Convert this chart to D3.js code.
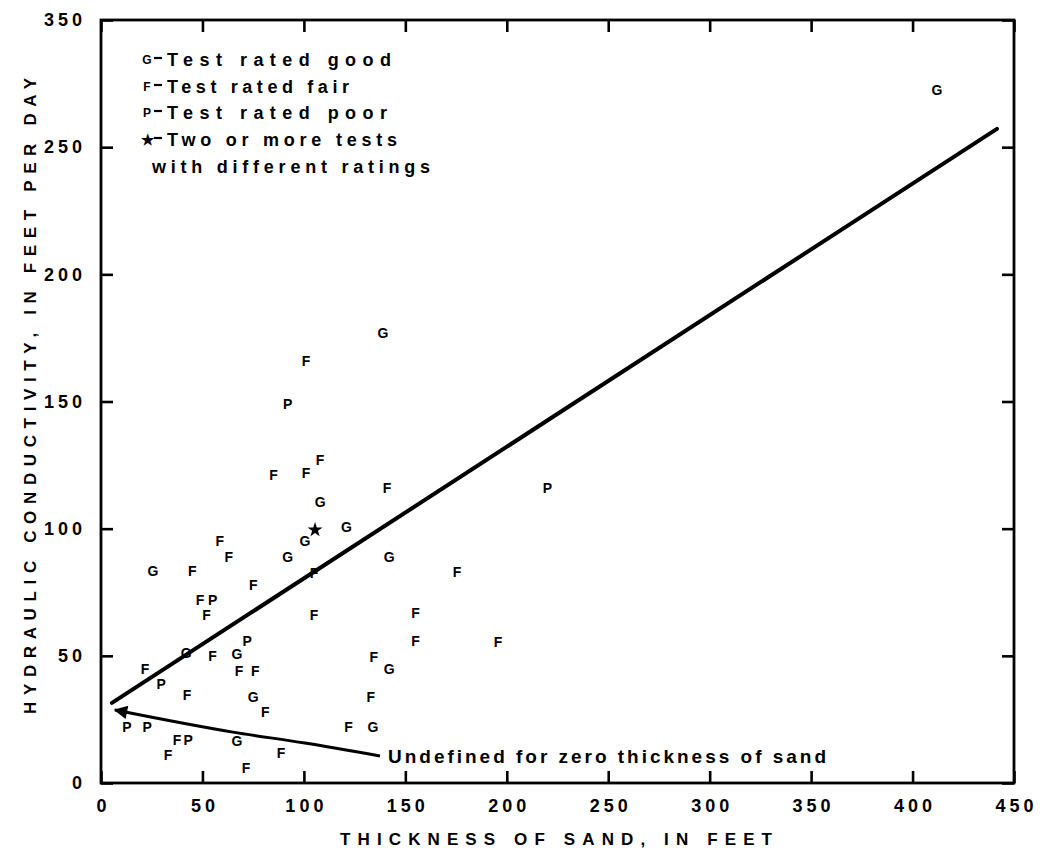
<!DOCTYPE html>
<html>
<head>
<meta charset="utf-8">
<script src="https://cdn.jsdelivr.net/npm/d3@7/dist/d3.min.js"></script>
<style>
  html, body { margin: 0; padding: 0; background: #fff; }
  svg { display: block; }
  text { font-family: "Liberation Sans", Arial, Helvetica, sans-serif; fill: #000; }
</style>
</head>
<body>
<svg id="chart" width="1042" height="859"></svg>
<script>
// Aquifer tests: sand thickness (ft) vs hydraulic conductivity (ft/d), by test rating
const goodThickness = [412, 139, 108, 121, 100.5, 92, 142, 25.6, 42, 67, 142, 75, 134, 67];
const goodConductivity = [272.5, 177, 110.5, 100.7, 95, 89, 89, 83.4, 51, 50.6, 45, 34, 22, 16.5];

const fairThickness = [101, 85, 101, 108, 141, 58.6, 63, 45, 75, 105, 175.5, 48.8, 52, 105, 155, 155, 195.7, 55, 134.5, 68, 76, 21.7, 42.4, 133, 81, 122, 37.5, 33, 88.7, 71.5];
const fairConductivity = [166, 121, 122, 127, 116, 95, 89, 83.4, 78, 82.6, 83, 72, 66, 66, 67, 56, 55.4, 50, 49.5, 44.1, 44.1, 45, 34.6, 34, 28, 22, 17, 11, 12, 6];

const poorThickness = [92, 220, 55, 72, 29.6, 12.8, 22.7, 43];
const poorConductivity = [149, 116, 72, 56, 39, 22, 22, 17];

const mixedThickness = [105.5];
const mixedConductivity = [99.5];

// Fitted relation and the annotation arrow
const fitThickness = [5.4, 441.6];
const fitConductivity = [31.5, 257.2];
const arrowThickness = [137.5, 100.5, 65, 6.9];
const arrowConductivity = [10.6, 15.7, 20, 28.7];

const xTicks = [0, 50, 100, 150, 200, 250, 300, 350, 400, 450];
const xTickLabels = ["0", "50", "100", "150", "200", "250", "300", "350", "400", "450"];
const yTicks = [0, 50, 100, 150, 200, 250, 300];
const yTickLabels = ["0", "50", "100", "150", "200", "250", "350"];

const legendSymbols = ["G", "F", "P", "★", ""];
const legendTexts = ["Test rated good", "Test rated fair", "Test rated poor", "Two or more tests", "with different ratings"];

const svg = d3.select("#chart");
const plotLeft = 101, plotRight = 1014, plotTop = 20, plotBottom = 783;

const x = d3.scaleLinear().domain([0, 450]).range([plotLeft, plotRight]);
const y = d3.scaleLinear().domain([0, 300]).range([plotBottom, plotTop]);

// Axes with inward ticks on all four sides
const tickStyle = g => {
  g.select(".domain").remove();
  g.selectAll(".tick line").attr("stroke", "#000").attr("stroke-width", 2.6);
  g.selectAll(".tick text")
    .attr("font-size", 18).attr("font-weight", "bold")
    .style("letter-spacing", "4px").attr("fill", "#000");
};

svg.append("g").attr("transform", `translate(0,${plotBottom})`)
  .call(d3.axisBottom(x).tickValues(xTicks).tickSize(-12).tickPadding(16)
    .tickFormat((d, i) => xTickLabels[i]))
  .call(tickStyle)
  .call(g => g.selectAll(".tick text").attr("dx", "2px"));

svg.append("g").attr("transform", `translate(${plotLeft},0)`)
  .call(d3.axisLeft(y).tickValues(yTicks).tickSize(-12).tickPadding(15)
    .tickFormat((d, i) => yTickLabels[i]))
  .call(tickStyle);

svg.append("g").attr("transform", `translate(0,${plotTop})`)
  .call(d3.axisTop(x).tickValues(xTicks).tickSize(-12).tickFormat(""))
  .call(tickStyle);

svg.append("g").attr("transform", `translate(${plotRight},0)`)
  .call(d3.axisRight(y).tickValues(yTicks).tickSize(-12).tickFormat(""))
  .call(tickStyle);

svg.append("rect")
  .attr("x", plotLeft).attr("y", plotTop)
  .attr("width", plotRight - plotLeft).attr("height", plotBottom - plotTop)
  .attr("fill", "none").attr("stroke", "#000").attr("stroke-width", 2.8);

// Axis titles
svg.append("text")
  .attr("x", 556).attr("y", 845)
  .attr("text-anchor", "middle")
  .attr("font-size", 17).attr("font-weight", "bold")
  .attr("textLength", 432).attr("lengthAdjust", "spacing")
  .text("THICKNESS OF SAND, IN FEET");

svg.append("text")
  .attr("transform", "translate(36,396) rotate(-90)")
  .attr("text-anchor", "middle")
  .attr("font-size", 17).attr("font-weight", "bold")
  .attr("textLength", 636).attr("lengthAdjust", "spacing")
  .text("HYDRAULIC CONDUCTIVITY, IN FEET PER DAY");

// Fitted line
svg.append("path")
  .datum(d3.zip(fitThickness, fitConductivity))
  .attr("d", d3.line().x(d => x(d[0])).y(d => y(d[1])))
  .attr("fill", "none").attr("stroke", "#000").attr("stroke-width", 4)
  .attr("stroke-linecap", "round");

// Arrow with annotation
svg.append("defs").append("marker")
  .attr("id", "arrowhead")
  .attr("viewBox", "0 0 10 10").attr("refX", 9).attr("refY", 5)
  .attr("markerWidth", 5).attr("markerHeight", 4.5)
  .attr("markerUnits", "strokeWidth")
  .attr("orient", "auto")
  .append("path").attr("d", "M0,0 L10,5 L0,10 Z").attr("fill", "#000");

svg.append("path")
  .datum(d3.zip(arrowThickness, arrowConductivity))
  .attr("d", d3.line().x(d => x(d[0])).y(d => y(d[1])).curve(d3.curveMonotoneX))
  .attr("fill", "none").attr("stroke", "#000").attr("stroke-width", 3)
  .attr("marker-end", "url(#arrowhead)");

svg.append("text")
  .attr("x", 388).attr("y", 763)
  .attr("font-size", 19).attr("font-weight", "bold")
  .attr("textLength", 438).attr("lengthAdjust", "spacing")
  .text("Undefined for zero thickness of sand");

// Test results drawn as rating letters
const series = [
  { letter: "G", xs: goodThickness, ys: goodConductivity },
  { letter: "F", xs: fairThickness, ys: fairConductivity },
  { letter: "P", xs: poorThickness, ys: poorConductivity }
];
series.forEach(s => {
  svg.append("g").selectAll("text")
    .data(d3.zip(s.xs, s.ys))
    .join("text")
    .attr("x", d => x(d[0])).attr("y", d => y(d[1]))
    .attr("text-anchor", "middle").attr("dy", "0.36em")
    .attr("font-size", 14).attr("font-weight", "bold")
    .text(s.letter);
});

svg.append("g").selectAll("path")
  .data(d3.zip(mixedThickness, mixedConductivity))
  .join("path")
  .attr("transform", d => `translate(${x(d[0])},${y(d[1])})`)
  .attr("d", d3.symbol(d3.symbolStar, 70))
  .attr("fill", "#000");

// Legend
const legendRows = [60, 87, 113, 140, 167];
const legendWidths = [224, 182, 220, 230, 278];
const legend = svg.append("g");
legendTexts.forEach((t, i) => {
  const ry = legendRows[i];
  if (legendSymbols[i]) {
    legend.append("text")
      .attr("x", 147).attr("y", ry).attr("dy", "0.36em")
      .attr("text-anchor", "middle")
      .attr("font-size", i === 3 ? 15 : 12).attr("font-weight", "bold")
      .text(legendSymbols[i]);
    legend.append("line")
      .attr("x1", 154).attr("x2", 162).attr("y1", ry - 2).attr("y2", ry - 2)
      .attr("stroke", "#000").attr("stroke-width", 2.2);
  }
  const tx = i === 4 ? 152 : 167;
  legend.append("text")
    .attr("x", tx).attr("y", ry).attr("dy", "0.36em")
    .attr("font-size", 18).attr("font-weight", "bold")
    .attr("textLength", legendWidths[i]).attr("lengthAdjust", "spacing")
    .text(t);
});
</script>
</body>
</html>
